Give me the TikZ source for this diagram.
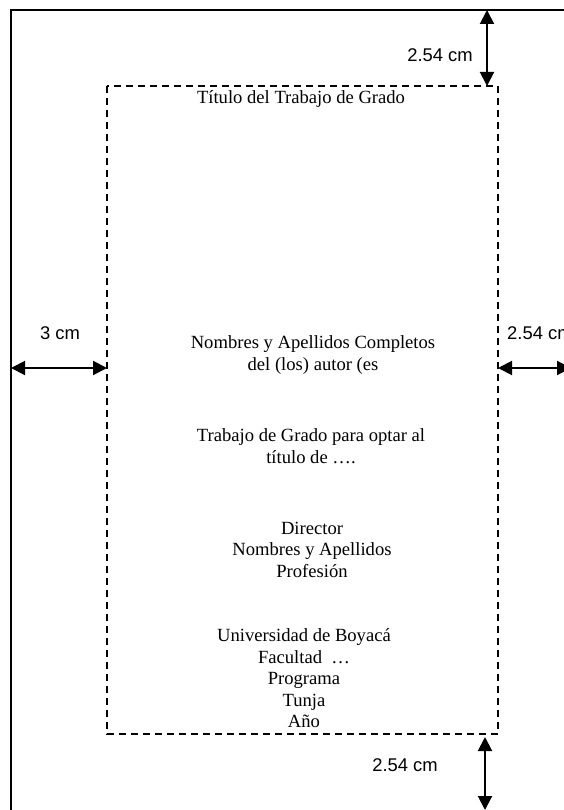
\documentclass[tikz,border=0pt]{standalone}
\usepackage{fontspec}
\setmainfont{Liberation Serif}
\setsansfont{Liberation Sans}
\usetikzlibrary{arrows.meta, positioning}

\tikzset{
  page/.style={line width=1.3pt},
  margin/.style={line width=1.3pt, dash pattern=on 7pt off 5pt},
  dimarrow/.style={{Triangle[length=14pt,width=14pt]}-{Triangle[length=14pt,width=14pt]}, line width=2pt},
  dimlabel/.style={font=\sffamily\fontsize{18.4}{22}\selectfont, inner sep=0pt},
  body/.style={font=\fontsize{18.6}{21.5}\selectfont, align=center, inner sep=0pt}
}

\begin{document}
\begin{tikzpicture}[x=1pt, y=-1pt]
\useasboundingbox (0,0) rectangle (564,810);
\clip (0,0) rectangle (564,810);

%Page and margins:
\coordinate (pageTL) at (11,10);
\coordinate (pageBR) at (600,840);
\coordinate (marTL) at (107,86);
\coordinate (marBR) at (498,734);
\draw[page] (pageTL) rectangle (pageBR);
\draw[margin] (marTL) rectangle (marBR);

%Dimension ends:
\coordinate (topA) at (487,10);
\coordinate (topB) at (487,86);
\coordinate (leftA) at (11,368);
\coordinate (leftB) at (107,368);
\coordinate (rightA) at (498,368);
\coordinate (rightB) at (571,368);
\coordinate (botA) at (485,737);
\coordinate (botB) at (485,810);

\draw[dimarrow] (topA) -- (topB);
\draw[dimarrow] (leftA) -- (leftB);
\draw[dimarrow] (rightA) -- (rightB);
\draw[dimarrow] (botA) -- (botB);

\node (topL) [dimlabel] at (440,55) {2.54 cm};
\node (leftL) [dimlabel] at (60,333) {3 cm};
\node (rightL) [dimlabel, anchor=west] at (507,333) {2.54 cm};
\node (botL) [dimlabel] at (405,765) {2.54 cm};

%Cover text:
\node (title) [body] at (301,99) {Título del Trabajo de Grado};
\node (author) [body] at (313,355) {Nombres y Apellidos Completos\\del (los) autor (es};
\node (degree) [body] at (311,446) {Trabajo de Grado para optar al\\título de ….};
\node (director) [body] at (312,549.5) {Director\\Nombres y Apellidos\\Profesión};
\node (univ) [body] at (304,678.5) {Universidad de Boyacá\\Facultad~ …\\Programa\\Tunja\\Año};

\end{tikzpicture}
\end{document}
